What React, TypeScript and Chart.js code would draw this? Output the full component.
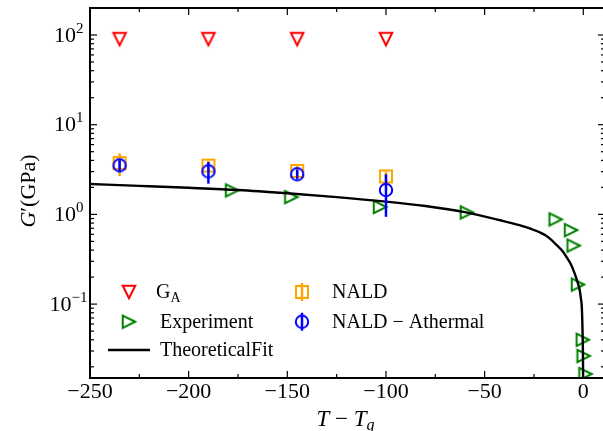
import React, { useEffect, useRef } from 'react';
import { Chart, registerables } from 'chart.js';
Chart.register(...registerables);

// ---------- data ----------
const gaX = [-235, -190, -145, -100];
const gaY = [90, 90, 90, 90];

const expX = [-178, -148, -103, -59, -14, -6.2, -4.9, -2.7, -0.25, 0.15, 1.1];
const expY = [1.85, 1.56, 1.21, 1.05, 0.88, 0.667, 0.449, 0.165, 0.04, 0.0264, 0.0166];

const fitX = [-250, -225, -200, -175, -150, -125, -100, -80, -60, -42, -33, -25, -19, -15, -11, -8.5, -6, -4.3, -3, -1.8, -1.2, -0.76, -0.4, -0.2, -0.08, 0];
const fitY = [2.18, 2.08, 1.98, 1.87, 1.72, 1.56, 1.39, 1.24, 1.06, 0.86, 0.765, 0.67, 0.58, 0.49, 0.4, 0.335, 0.27, 0.217, 0.178, 0.143, 0.115, 0.093, 0.052, 0.03, 0.015, 0.008];

const naldX = [-235, -190, -145, -100];
const naldY = [3.73, 3.5, 3.05, 2.65];
const naldErr = [1.05, 0.45, 0.4, 0.35];

const athX = [-235, -190, -145, -100];
const athY = [3.52, 3.02, 2.8, 1.87];
const athErr = [0.5, 0.82, 0.35, 0.93];

const xTicks = [-250, -200, -150, -100, -50, 0];
const xMinorTicks = [-225, -175, -125, -75, -25];
const yTicks = [0.1, 1, 10, 100];
const yTickExp = ['\u22121', '0', '1', '2'];

const legendLabels = ['G_A', 'Experiment', 'TheoreticalFit', 'NALD', 'NALD \u2212 Athermal'];

// ---------- styling ----------
const RED = '#ff0000';
const GREEN = '#008000';
const ORANGE = '#ffa500';
const BLUE = '#0000ff';
const SERIF = '"Liberation Serif", "Times New Roman", serif';

function makeMarker(kind: string, color: string, size: number, lw: number): HTMLCanvasElement {
  const S = 26;
  const c = document.createElement('canvas');
  c.width = S;
  c.height = S;
  const g = c.getContext('2d')!;
  g.translate(S / 2, S / 2);
  g.strokeStyle = color;
  g.lineWidth = lw;
  g.lineJoin = 'miter';
  const h = size / 2;
  g.beginPath();
  if (kind === 'v') {
    g.moveTo(0, h); g.lineTo(-h, -h); g.lineTo(h, -h); g.closePath();
  } else if (kind === '>') {
    g.moveTo(h, 0); g.lineTo(-h, -h); g.lineTo(-h, h); g.closePath();
  } else if (kind === 's') {
    g.rect(-h, -h, size, size);
  } else {
    g.arc(0, 0, h, 0, Math.PI * 2);
  }
  g.stroke();
  return c;
}

function zip(xs: number[], ys: number[]) {
  return xs.map((x, i) => ({ x, y: ys[i] }));
}

function drawSegments(ctx: CanvasRenderingContext2D, segs: { t: string; f: string; dy?: number }[], cx: number, by: number) {
  let total = 0;
  for (const s of segs) { ctx.font = s.f; total += ctx.measureText(s.t).width; }
  let x = cx - total / 2;
  ctx.textAlign = 'left';
  ctx.textBaseline = 'alphabetic';
  for (const s of segs) {
    ctx.font = s.f;
    ctx.fillText(s.t, x, by + (s.dy || 0));
    x += ctx.measureText(s.t).width;
  }
}

export default function App() {
  const ref = useRef<HTMLCanvasElement>(null);

  useEffect(() => {
    let chart: Chart | null = null;
    let cancelled = false;

    const build = () => {
      if (cancelled || !ref.current) return;
      const mGA = makeMarker('v', RED, 12.5, 2);
      const mExp = makeMarker('>', GREEN, 12.5, 2);
      const mNald = makeMarker('s', ORANGE, 12, 2);
      const mAth = makeMarker('o', BLUE, 12.4, 2);

      const deco = {
        id: 'deco',
        beforeDatasetDraw(ch: any, args: any) {
          const ds = ch.data.datasets[args.index];
          if (!ds.errY) return;
          const ctx = ch.ctx as CanvasRenderingContext2D;
          const xs = ch.scales.x, ys = ch.scales.y;
          ctx.save();
          ctx.strokeStyle = ds.errColor;
          ctx.lineWidth = 2.5;
          ds.data.forEach((p: any, i: number) => {
            const px = xs.getPixelForValue(p.x);
            ctx.beginPath();
            ctx.moveTo(px, ys.getPixelForValue(p.y + ds.errY[i]));
            ctx.lineTo(px, ys.getPixelForValue(p.y - ds.errY[i]));
            ctx.stroke();
          });
          ctx.restore();
        },
        afterDraw(ch: any) {
          const ctx = ch.ctx as CanvasRenderingContext2D;
          const { left, right, top, bottom } = ch.chartArea;
          const xs = ch.scales.x, ys = ch.scales.y;
          ctx.save();
          ctx.strokeStyle = '#000';
          ctx.fillStyle = '#000';
          // ticks
          ctx.lineWidth = 1.2;
          const tick = (x1: number, y1: number, x2: number, y2: number) => {
            ctx.beginPath(); ctx.moveTo(x1, y1); ctx.lineTo(x2, y2); ctx.stroke();
          };
          xTicks.forEach(v => { const p = xs.getPixelForValue(v); tick(p, bottom, p, bottom - 7); tick(p, top, p, top + 7); });
          xMinorTicks.forEach(v => { const p = xs.getPixelForValue(v); tick(p, bottom, p, bottom - 4); tick(p, top, p, top + 4); });
          yTicks.forEach(v => { const p = ys.getPixelForValue(v); tick(left, p, left + 7, p); tick(right, p, right - 7, p); });
          const minor: number[] = [];
          [0.01, 0.1, 1, 10, 100].forEach(d => { for (let m = 2; m <= 9; m++) { const v = d * m; if (v > ys.min && v < ys.max) minor.push(v); } });
          minor.forEach(v => { const p = ys.getPixelForValue(v); tick(left, p, left + 4, p); tick(right, p, right - 4, p); });
          // frame
          ctx.lineWidth = 2;
          ctx.strokeRect(left, top, right - left, bottom - top);

          // y tick labels 10^n
          yTicks.forEach((v, i) => {
            const p = ys.getPixelForValue(v);
            const exp = yTickExp[i];
            const rightEdge = exp.length > 1 ? 87.5 : 83.5;
            ctx.font = `15px ${SERIF}`;
            const wSup = ctx.measureText(exp).width;
            ctx.font = `22px ${SERIF}`;
            const wMain = ctx.measureText('10').width;
            ctx.textAlign = 'left';
            ctx.textBaseline = 'alphabetic';
            ctx.fillText('10', rightEdge - wSup - wMain, p + 6.5);
            ctx.font = `15px ${SERIF}`;
            ctx.fillText(exp, rightEdge - wSup, p - 2.5);
          });

          // x title: T − T_g
          drawSegments(ctx, [
            { t: 'T', f: `italic 23px ${SERIF}` },
            { t: ' \u2212 ', f: `23px ${SERIF}` },
            { t: 'T', f: `italic 23px ${SERIF}` },
            { t: 'g', f: `italic 16px ${SERIF}`, dy: 4 },
          ], (left + right) / 2 - 2, 426);

          // y title: G′(GPa)
          ctx.save();
          ctx.translate(35, (top + bottom) / 2 - 2);
          ctx.rotate(-Math.PI / 2);
          drawSegments(ctx, [
            { t: 'G', f: `italic 22px ${SERIF}` },
            { t: '\u2032', f: `22px ${SERIF}` },
            { t: '(GPa)', f: `22px ${SERIF}` },
          ], 0, 0);
          ctx.restore();

          // legend
          const rows = [292, 321.7, 350];
          const c1m = 129, c1t = 160, c2m = 302, c2t = 332;
          const img = (m: HTMLCanvasElement, x: number, y: number) => ctx.drawImage(m, x - m.width / 2, y - m.height / 2);
          ctx.textAlign = 'left';
          ctx.textBaseline = 'alphabetic';
          // G_A
          img(mGA, c1m, rows[0]);
          ctx.font = `20px ${SERIF}`;
          ctx.fillText('G', c1t - 4, rows[0] + 6);
          const wG = ctx.measureText('G').width;
          ctx.font = `14px ${SERIF}`;
          ctx.fillText('A', c1t - 4 + wG, rows[0] + 9.5);
          // Experiment
          img(mExp, c1m, rows[1]);
          ctx.font = `20px ${SERIF}`;
          ctx.fillText(legendLabels[1], c1t, rows[1] + 6);
          // TheoreticalFit
          ctx.lineWidth = 2.4;
          ctx.strokeStyle = '#000';
          ctx.beginPath(); ctx.moveTo(108, rows[2]); ctx.lineTo(150, rows[2]); ctx.stroke();
          ctx.fillText(legendLabels[2], c1t, rows[2] + 6);
          // NALD
          ctx.lineWidth = 2.5;
          ctx.strokeStyle = ORANGE;
          ctx.beginPath(); ctx.moveTo(c2m, rows[0] - 9); ctx.lineTo(c2m, rows[0] + 9); ctx.stroke();
          img(mNald, c2m, rows[0]);
          ctx.fillText(legendLabels[3], c2t, rows[0] + 6);
          // NALD − Athermal
          ctx.strokeStyle = BLUE;
          ctx.beginPath(); ctx.moveTo(c2m, rows[1] - 9); ctx.lineTo(c2m, rows[1] + 9); ctx.stroke();
          img(mAth, c2m, rows[1]);
          ctx.fillText(legendLabels[4], c2t, rows[1] + 6);
          ctx.restore();
        },
      };

      chart = new Chart(ref.current, {
        type: 'scatter',
        data: {
          datasets: [
            { label: legendLabels[4], data: zip(athX, athY), pointStyle: mAth, pointRadius: 7, clip: 0, errY: athErr, errColor: BLUE } as any,
            { label: legendLabels[3], data: zip(naldX, naldY), pointStyle: mNald, pointRadius: 7, clip: 0, errY: naldErr, errColor: ORANGE } as any,
            { label: legendLabels[2], data: zip(fitX, fitY), showLine: true, pointRadius: 0, borderColor: '#000', borderWidth: 2.4, cubicInterpolationMode: 'monotone', clip: 0 } as any,
            { label: legendLabels[1], data: zip(expX, expY), pointStyle: mExp, pointRadius: 7, clip: 0 } as any,
            { label: legendLabels[0], data: zip(gaX, gaY), pointStyle: mGA, pointRadius: 7, clip: 0 } as any,
          ],
        },
        options: {
          animation: false,
          responsive: false,
          devicePixelRatio: 1,
          events: [],
          layout: { padding: { top: 3, right: 9, bottom: 0, left: 0 } },
          plugins: { legend: { display: false }, tooltip: { enabled: false } },
          scales: {
            x: {
              type: 'linear',
              min: -250,
              max: 11,
              grid: { display: false, drawTicks: false },
              border: { display: false },
              ticks: {
                color: '#000',
                font: { family: SERIF, size: 22 },
                padding: 1,
                maxRotation: 0,
                autoSkip: false,
                callback: (v: any) => String(v).replace('-', '\u2212'),
              },
              afterBuildTicks: (s: any) => { s.ticks = xTicks.map(v => ({ value: v })); },
              afterFit: (s: any) => { s.height = 431 - 378; },
            },
            y: {
              type: 'logarithmic',
              min: 0.015,
              max: 200,
              grid: { display: false, drawTicks: false },
              border: { display: false },
              ticks: { display: false },
              afterFit: (s: any) => { s.width = 90; },
            },
          },
        } as any,
        plugins: [deco],
      });
    };

    const fonts = (document as any).fonts;
    if (fonts && fonts.load) {
      Promise.all([
        fonts.load(`22px ${SERIF}`),
        fonts.load(`italic 22px ${SERIF}`),
      ]).then(build, build);
    } else {
      build();
    }
    return () => {
      cancelled = true;
      if (chart) chart.destroy();
    };
  }, []);

  return (
    <div style={{ position: 'absolute', left: 0, top: 0, width: 603, height: 431, overflow: 'hidden', background: '#fff' }}>
      <canvas ref={ref} width={614} height={431} style={{ display: 'block', width: 614, height: 431 }} />
    </div>
  );
}
